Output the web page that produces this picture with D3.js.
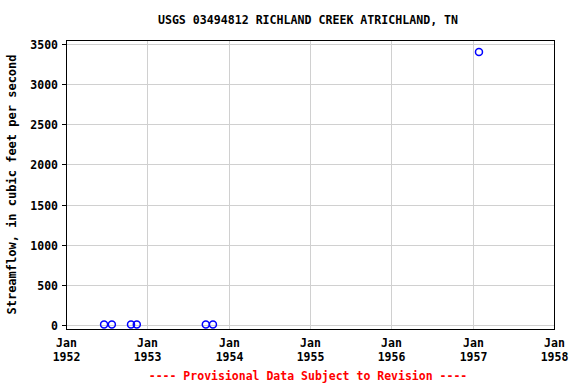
<!DOCTYPE html>
<html><head><meta charset="utf-8">
<script src="https://cdn.jsdelivr.net/npm/d3@7"></script>
<style>body{margin:0;background:#fff}svg{display:block}text{font-family:"DejaVu Sans Mono",monospace;font-weight:bold}</style>
</head><body>
<script>
const dates = ["1952-06-20","1952-07-25","1952-10-19","1952-11-14","1953-09-20","1953-10-22","1957-01-29"];
const flows = [5, 5, 5, 5, 5, 5, 3400];
const yTicks = [0,500,1000,1500,2000,2500,3000,3500];
const xTickYears = [1952,1953,1954,1955,1956,1957,1958];
const title = "USGS 03494812 RICHLAND CREEK ATRICHLAND, TN";
const yLabel = "Streamflow, in cubic feet per second";
const footer = "---- Provisional Data Subject to Revision ----";

const W=576,H=384, L=66,R=554,T=40,B=329;
const svg=d3.select("body").append("svg").attr("width",W).attr("height",H);
const x=d3.scaleTime().domain([new Date(1952,0,1),new Date(1958,0,1)]).range([L,R]);
const y=d3.scaleLinear().domain([-50,3550]).range([B,T]);
const parse=d3.timeParse("%Y-%m-%d");

const g=svg.append("g");
xTickYears.forEach(yr=>{
  const px=Math.round(x(new Date(yr,0,1)))+0.5;
  g.append("line").attr("x1",px).attr("x2",px).attr("y1",T).attr("y2",B).attr("stroke","#d0d0d0");
  svg.append("text").attr("x",px).attr("y",347).attr("text-anchor","middle").attr("font-size","11.5px").text("Jan");
  svg.append("text").attr("x",px).attr("y",361).attr("text-anchor","middle").attr("font-size","11.5px").text(yr);
});
yTicks.forEach(v=>{
  const py=Math.round(y(v))+0.5;
  g.append("line").attr("x1",L).attr("x2",R).attr("y1",py).attr("y2",py).attr("stroke","#d0d0d0");
  g.append("line").attr("x1",L-4).attr("x2",L).attr("y1",py).attr("y2",py).attr("stroke","#000");
  svg.append("text").attr("x",L-8).attr("y",py+4).attr("text-anchor","end").attr("font-size","11.5px").text(v);
});
svg.append("rect").attr("x",L+0.5).attr("y",T+0.5).attr("width",R-L).attr("height",B-T).attr("fill","none").attr("stroke","#000");

svg.selectAll("circle.pt").data(dates.map((d,i)=>({d:parse(d),v:flows[i]}))).enter().append("circle")
  .attr("cx",d=>x(d.d)).attr("cy",d=>y(d.v)).attr("r",3.5)
  .attr("fill","none").attr("stroke","#0000ff").attr("stroke-width",1.5);

svg.append("text").attr("x",308).attr("y",24).attr("text-anchor","middle").attr("font-size","11.6px").text(title);
svg.append("text").attr("transform","translate(16,"+((T+B)/2)+") rotate(-90)").attr("text-anchor","middle").attr("font-size","12px").text(yLabel);
svg.append("text").attr("x",308).attr("y",380).attr("text-anchor","middle").attr("font-size","11.5px").attr("fill","#ff0000").text(footer);
</script>
</body></html>
